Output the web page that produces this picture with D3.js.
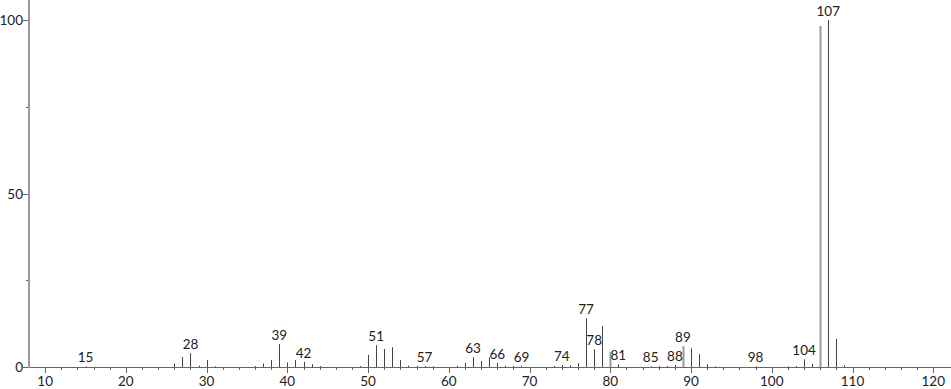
<!DOCTYPE html>
<html>
  <head>
    <meta charset="utf-8">
    <script src="https://d3js.org/d3.v7.min.js"></script>
    <style>
      body { margin: 0; background: #fff; }
      text { font-family: "Lato", "DejaVu Sans", sans-serif; }
    </style>
  </head>
  <body>
    <div id="chart"></div>
    <script>
      // m/z values and relative intensities
      var mz = [15, 26, 27, 28, 29, 30, 31, 36, 37, 38, 39, 40, 41, 42, 43, 44,
                49, 50, 51, 52, 53, 54, 55, 56, 57, 58, 61, 62, 63, 64, 65, 66, 67, 68, 69,
                73, 74, 75, 76, 77, 78, 79, 80, 81, 85, 86, 87, 88, 89, 90, 91, 92, 93,
                98, 102, 103, 104, 105, 106, 107, 108, 109];
      var intensity = [0.2, 1.0, 2.9, 4.0, 0.4, 2.0, 0.2, 0.3, 1.0, 2.0, 6.6, 1.3, 2.0, 1.5, 0.8, 0.3,
                0.3, 3.5, 6.3, 5.2, 5.7, 2.0, 0.4, 0.3, 0.3, 0.2, 0.4, 1.2, 2.8, 1.7, 2.8, 1.2, 0.4, 0.3, 0.4,
                0.3, 0.6, 0.5, 1.1, 14.0, 5.1, 11.8, 4.4, 0.8, 0.2, 0.3, 0.3, 0.6, 6.0, 5.4, 3.7, 0.8, 0.2,
                0.2, 0.2, 0.3, 2.2, 0.9, 98.3, 100, 8.1, 0.5];
      // peaks drawn in the lighter colour
      var lightPeaks = [80, 89, 106];
      // annotated peaks
      var labelMz = [15, 28, 39, 42, 51, 57, 63, 66, 69, 74, 77, 78, 81, 85, 88, 89, 98, 104, 107];
      var xTicks = [10, 20, 30, 40, 50, 60, 70, 80, 90, 100, 110, 120];
      var yTicks = [0, 50, 100];
      var yMinor = [25, 75];

      var width = 951, height = 389;
      var fs = 13.5;
      var data = mz.map(function(m, i) { return {mz: m, v: intensity[i]}; });
      var lookup = {};
      data.forEach(function(d) { lookup[d.mz] = d.v; });

      var svg = d3.select("#chart").append("svg")
          .attr("width", width)
          .attr("height", height);

      var x = d3.scaleLinear().domain([8, 122.2]).range([29, 951]);
      var y = d3.scaleLinear().domain([0, 100]).range([367, 20]);

      // x axis: minor ticks every 2
      var minor = d3.range(10, 122, 2).filter(function(t) { return t % 10 != 0; });
      var gx = svg.append("g");
      gx.append("line")
          .attr("x1", x(8)).attr("x2", width)
          .attr("y1", y(0) + 0.5).attr("y2", y(0) + 0.5)
          .attr("stroke", "#666");
      gx.selectAll(".minor").data(minor).enter().append("line")
          .attr("x1", function(d) { return Math.round(x(d)) + 0.5; })
          .attr("x2", function(d) { return Math.round(x(d)) + 0.5; })
          .attr("y1", y(0)).attr("y2", y(0) + 3)
          .attr("stroke", "#666");
      gx.selectAll(".major").data(xTicks).enter().append("line")
          .attr("x1", function(d) { return Math.round(x(d)) + 0.5; })
          .attr("x2", function(d) { return Math.round(x(d)) + 0.5; })
          .attr("y1", y(0)).attr("y2", y(0) + 6)
          .attr("stroke", "#666");
      gx.selectAll("text").data(xTicks).enter().append("text")
          .attr("x", function(d) { return x(d); })
          .attr("y", 386)
          .attr("text-anchor", "middle")
          .attr("font-size", fs)
          .attr("fill", "#222")
          .text(function(d) { return d; });

      // y axis
      var gy = svg.append("g");
      gy.append("line")
          .attr("x1", 29).attr("x2", 29)
          .attr("y1", 0).attr("y2", y(0) + 1)
          .attr("stroke", "#999").attr("stroke-width", 2);
      gy.selectAll(".major").data(yTicks).enter().append("line")
          .attr("x1", 23).attr("x2", 28)
          .attr("y1", function(d) { return Math.round(y(d)) + 0.5; })
          .attr("y2", function(d) { return Math.round(y(d)) + 0.5; })
          .attr("stroke", "#666");
      gy.selectAll(".minor").data(yMinor).enter().append("line")
          .attr("x1", 26).attr("x2", 28)
          .attr("y1", function(d) { return Math.round(y(d)) + 0.5; })
          .attr("y2", function(d) { return Math.round(y(d)) + 0.5; })
          .attr("stroke", "#666");
      gy.selectAll("text").data(yTicks).enter().append("text")
          .attr("x", 23)
          .attr("y", function(d) { return y(d) + 5; })
          .attr("text-anchor", "end")
          .attr("font-size", fs)
          .attr("fill", "#222")
          .text(function(d) { return d; });

      // peaks
      svg.append("g").selectAll("line").data(data).enter().append("line")
          .attr("x1", function(d) { return Math.round(x(d.mz)) + 0.5; })
          .attr("x2", function(d) { return Math.round(x(d.mz)) + 0.5; })
          .attr("y1", y(0))
          .attr("y2", function(d) { return y(d.v); })
          .attr("stroke", function(d) { return lightPeaks.indexOf(d.mz) >= 0 ? "#9a9a9a" : "#444"; })
          .attr("stroke-width", function(d) { return lightPeaks.indexOf(d.mz) >= 0 ? 2 : 1; });

      // peak labels
      svg.append("g").selectAll("text").data(labelMz).enter().append("text")
          .attr("x", function(d) { return x(d); })
          .attr("y", function(d) { return y(lookup[d] || 0) - 4; })
          .attr("text-anchor", "middle")
          .attr("font-size", fs)
          .attr("fill", "#222")
          .text(function(d) { return d; });
    </script>
  </body>
</html>
